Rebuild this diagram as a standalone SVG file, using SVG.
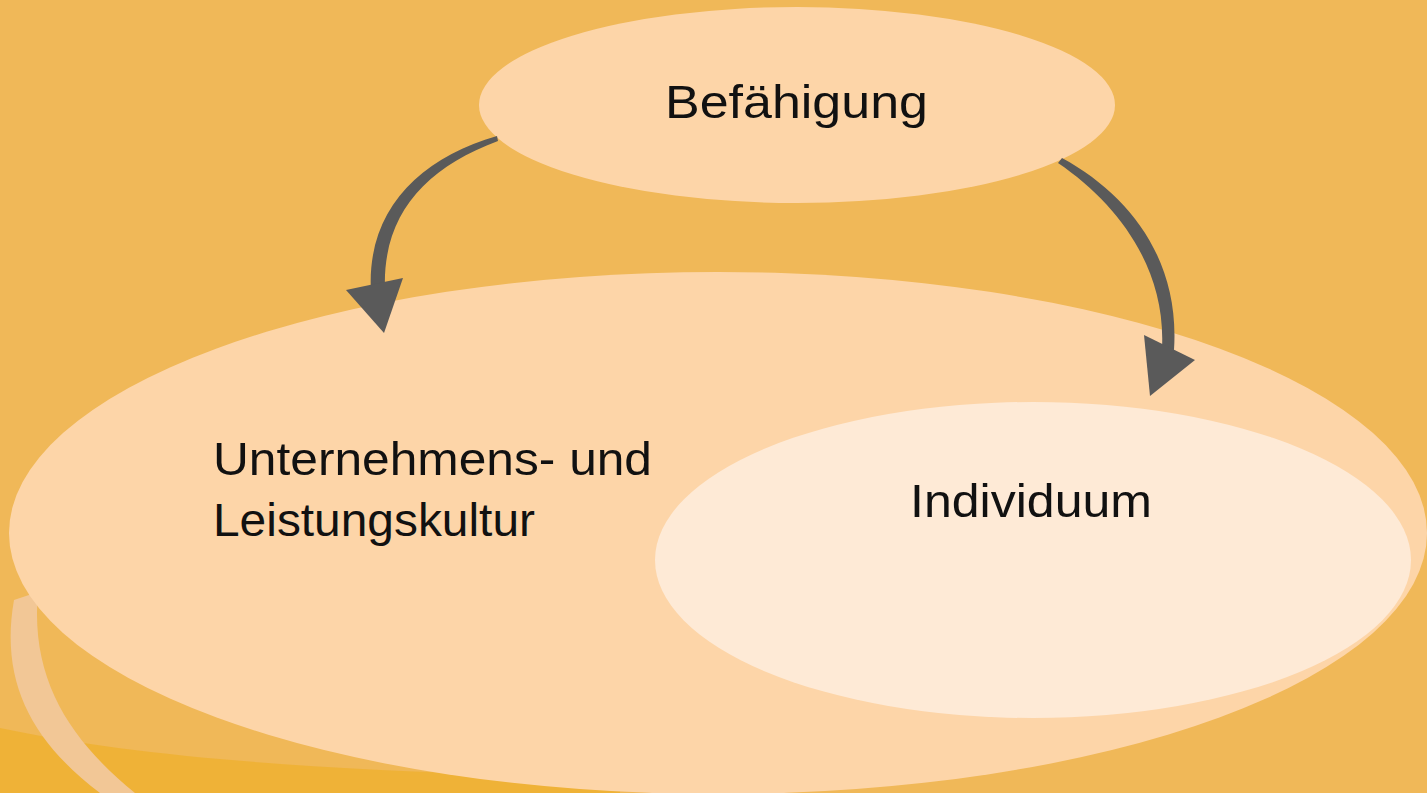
<svg xmlns="http://www.w3.org/2000/svg" width="1427" height="793" viewBox="0 0 1427 793">
<style>
.lbl{font-family:"Liberation Sans","DejaVu Sans",sans-serif;font-size:47px;fill:#111}
.arr{fill:#5a5a5a}
</style>
<rect width="1427" height="793" fill="#F0B858"/>
<g id="swoosh">
<path d="M0 728 C150 760 350 772 620 778 L620 793 L0 793 Z" fill="#EFB030" opacity="0.8"/>
<path d="M14 600 C0 680 30 740 100 793 L135 793 C70 740 30 680 38 592 Z" fill="#F2C796"/>
</g>
<g id="node-kultur">
<ellipse cx="718" cy="533" rx="709" ry="261" fill="#FDD5A8"/>
<text class="lbl" x="213" y="475" textLength="439" lengthAdjust="spacingAndGlyphs">Unternehmens- und</text>
<text class="lbl" x="213" y="536" textLength="322" lengthAdjust="spacingAndGlyphs">Leistungskultur</text>
</g>
<g id="node-individuum">
<ellipse cx="1033" cy="560" rx="378" ry="158" fill="#FEEAD6"/>
<text class="lbl" x="910" y="517" textLength="242" lengthAdjust="spacingAndGlyphs">Individuum</text>
</g>
<g id="node-befaehigung">
<ellipse cx="797" cy="105" rx="318" ry="98" fill="#FDD5A8"/>
<text class="lbl" x="665" y="118" textLength="263" lengthAdjust="spacingAndGlyphs">Befähigung</text>
</g>
<g id="connectors">
<path class="arr" d="M497 136 C420 158 366 210 371 292 L385 290 C382 215 425 168 498 141 Z"/>
<polygon class="arr" points="346,290 403,278 384,333"/>
<path class="arr" d="M1062 158 C1130 195 1180 260 1174 350 L1162 348 C1166 270 1120 205 1058 163 Z"/>
<polygon class="arr" points="1144,335 1195,360 1150,396"/>
</g>
</svg>
